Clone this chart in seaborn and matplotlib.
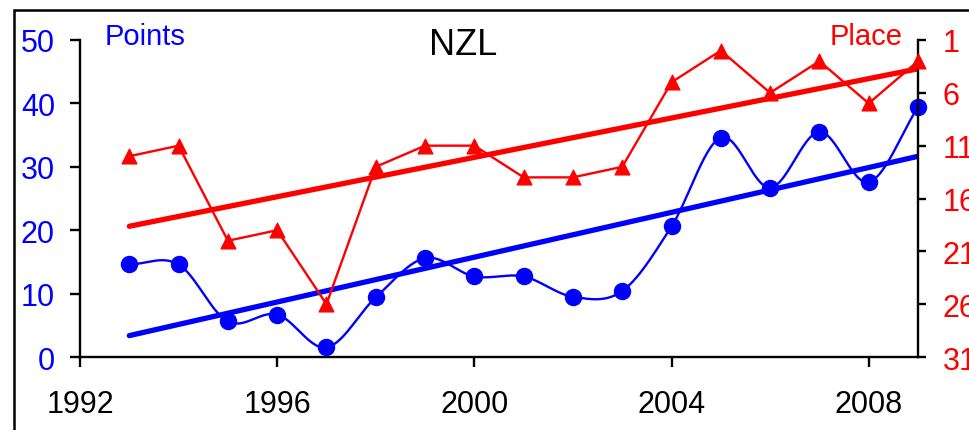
import numpy as np
import pandas as pd
import matplotlib
matplotlib.use("Agg")
import matplotlib.pyplot as plt
from matplotlib.patches import Rectangle
import seaborn as sns

years = [1993, 1994, 1995, 1996, 1997, 1998, 1999, 2000, 2001, 2002, 2003,
         2004, 2005, 2006, 2007, 2008, 2009]
points = [14.6, 14.6, 5.6, 6.7, 1.5, 9.4, 15.6, 12.7, 12.7, 9.5, 10.4,
          20.6, 34.6, 26.7, 35.5, 27.6, 39.4]
place = [12, 11, 20, 19, 26, 13, 11, 11, 14, 14, 13, 5, 2, 6, 3, 7, 3]
x_ticks = [1992, 1996, 2000, 2004, 2008]
left_ticks = [0, 10, 20, 30, 40, 50]
right_ticks = [1, 6, 11, 16, 21, 26, 31]

BLUE = "#0000FF"
RED = "#FF0000"

sns.set_style("white")
plt.rcParams["font.family"] = ["Liberation Sans", "DejaVu Sans"]

df = pd.DataFrame({"year": years, "points": points, "place": place})


def catmull(xs, ys, n=30):
    xs = np.asarray(xs, float)
    ys = np.asarray(ys, float)
    px = np.concatenate([[2 * xs[0] - xs[1]], xs, [2 * xs[-1] - xs[-2]]])
    py = np.concatenate([[2 * ys[0] - ys[1]], ys, [2 * ys[-1] - ys[-2]]])
    ox, oy = [], []
    t = np.linspace(0, 1, n, endpoint=False)
    for i in range(1, len(px) - 2):
        p0x, p1x, p2x, p3x = px[i - 1], px[i], px[i + 1], px[i + 2]
        p0y, p1y, p2y, p3y = py[i - 1], py[i], py[i + 1], py[i + 2]
        c1x = p1x + (p2x - p0x) / 6
        c1y = p1y + (p2y - p0y) / 6
        c2x = p2x - (p3x - p1x) / 6
        c2y = p2y - (p3y - p1y) / 6
        b0 = (1 - t) ** 3
        b1 = 3 * (1 - t) ** 2 * t
        b2 = 3 * (1 - t) * t ** 2
        b3 = t ** 3
        ox.extend(b0 * p1x + b1 * c1x + b2 * c2x + b3 * p2x)
        oy.extend(b0 * p1y + b1 * c1y + b2 * c2y + b3 * p2y)
    ox.append(xs[-1])
    oy.append(ys[-1])
    return np.array(ox), np.array(oy)


fig = plt.figure(figsize=(9.69, 4.31), dpi=100)
ax = fig.add_axes([80 / 969, 1 - 358 / 431, (918 - 80) / 969, (358 - 41) / 431])
ax2 = ax.twinx()

# Blue: points
sx, sy = catmull(years, points)
smooth = pd.DataFrame({"x": sx, "y": sy})
sns.lineplot(data=smooth, x="x", y="y", ax=ax, color=BLUE, lw=1.7, sort=False)
sns.regplot(data=df, x="year", y="points", ax=ax, scatter=False, ci=None,
            color=BLUE, line_kws={"lw": 3.8})
sns.scatterplot(data=df, x="year", y="points", ax=ax, color=BLUE, s=135,
                edgecolor=BLUE, marker="o", zorder=5, clip_on=False)

# Red: place
sns.lineplot(data=df, x="year", y="place", ax=ax2, color=RED, lw=1.7)
sns.regplot(data=df, x="year", y="place", ax=ax2, scatter=False, ci=None,
            color=RED, line_kws={"lw": 3.8})
sns.scatterplot(data=df, x="year", y="place", ax=ax2, color=RED, s=115,
                edgecolor=RED, marker="^", zorder=5, clip_on=False)

ax.set_xlim(1992, 2009)
ax.set_ylim(0, 50)
ax2.set_ylim(31, 1)
ax.set_xticks(x_ticks)
ax.set_yticks(left_ticks)
ax2.set_yticks(right_ticks)
for a in (ax, ax2):
    a.set_xlabel("")
    a.set_ylabel("")
    a.spines["top"].set_visible(False)
    for s in a.spines.values():
        s.set_linewidth(1.7)
        s.set_color("black")
ax.spines["right"].set_visible(False)
ax2.spines["left"].set_visible(False)
ax2.spines["bottom"].set_visible(False)

ax.tick_params(axis="y", colors="black", labelcolor=BLUE, labelsize=22,
               direction="out", length=7, width=1.7, pad=11, left=True)
ax.tick_params(axis="x", colors="black", labelcolor="black", labelsize=22,
               direction="out", length=7, width=1.7, pad=16, bottom=True)
ax2.tick_params(axis="y", colors="black", labelcolor=RED, labelsize=22,
                direction="out", length=6, width=1.7, pad=12, right=True)

fig.text(105 / 969, 1 - 45 / 431, "Points", color=BLUE, fontsize=21,
         ha="left", va="baseline")
fig.text(903 / 969, 1 - 45 / 431, "Place", color=RED, fontsize=21,
         ha="right", va="baseline")
fig.text(463 / 969, 1 - 55 / 431, "NZL", color="black", fontsize=26,
         ha="center", va="baseline")

fig.patches.append(Rectangle((14 / 969, -0.1), 1.2, 1 - 10.5 / 431 + 0.1,
                             transform=fig.transFigure, fill=False,
                             edgecolor="black", lw=1.8))

fig.savefig("out.png", dpi=100)
